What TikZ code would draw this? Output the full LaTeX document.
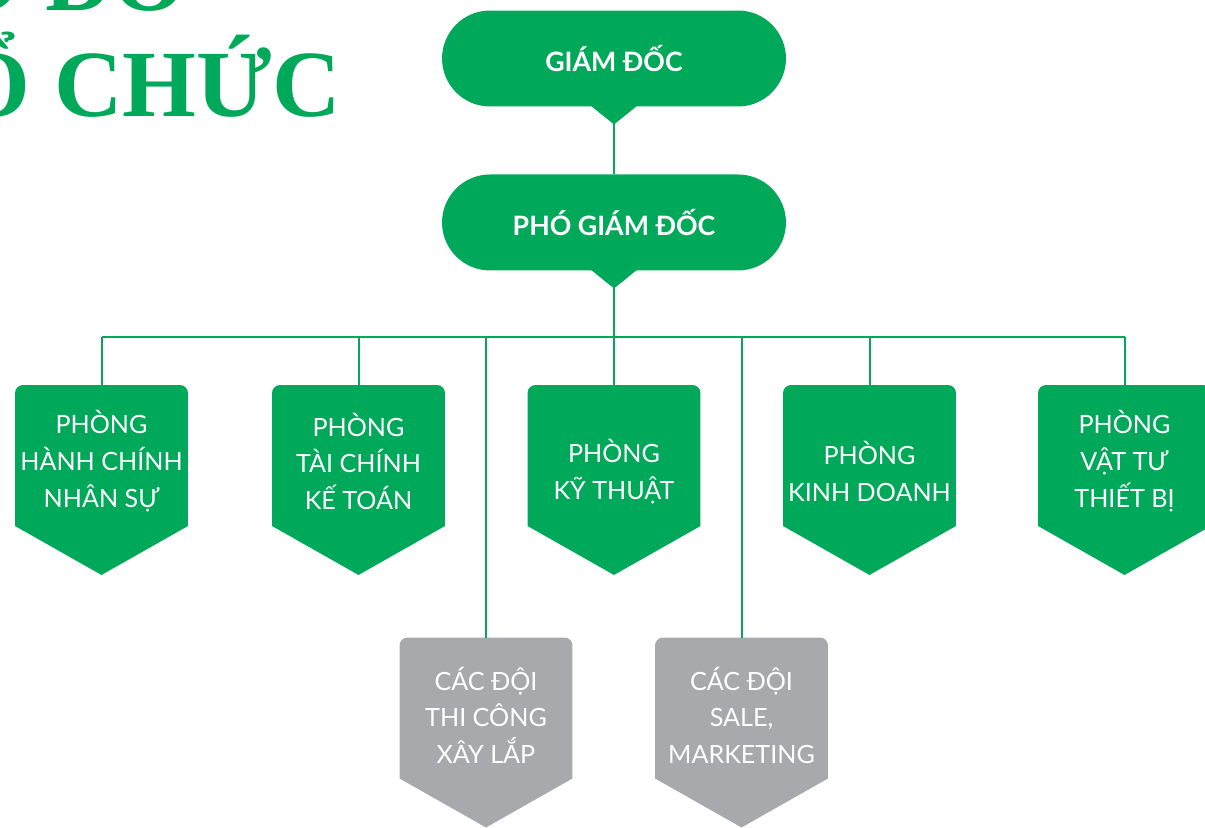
\documentclass[tikz,border=0pt]{standalone}
\usepackage{fontspec}
\setmainfont{Lato}
\newfontfamily\titlefont{Liberation Serif}
\usetikzlibrary{positioning}
\usetikzlibrary{backgrounds}
\definecolor{brandgreen}{RGB}{0,168,89}
\definecolor{teamgrey}{RGB}{167,169,172}
\newcommand{\firstline}[1]{\rule{0pt}{#1}} % pushes the text block down
\tikzset{
head/.style={ % top management boxes
fill=brandgreen,
text=white,
font=\bfseries\fontsize{15.2}{18}\selectfont,
minimum width=6.88cm,
minimum height=1.92cm,
outer sep=0pt,
rounded corners=0.96cm},
phong/.style={ % department boxes, shape is filled on the background
text=white,
align=center,
font=\fontsize{14.3}{21}\selectfont,
minimum width=3.46cm,
minimum height=2.82cm,
inner sep=0pt,
outer sep=0pt},
link/.style={draw=brandgreen, line width=0.04cm}, % connector lines
bigtitle/.style={text=brandgreen, inner sep=0pt,
font=\titlefont\bfseries\fontsize{54}{60}\selectfont}}

\begin{document}
\begin{tikzpicture}[x=0.02cm, y=-0.02cm]
\useasboundingbox (0,0) rectangle (1205,828);
\clip (0,0) rectangle (1205,828);
% title, cut by the page edge
\node[bigtitle, anchor=base east] (title2) at (341,117) {TỔ CHỨC};
\node[bigtitle, anchor=base west] (title1) at ([yshift=2.14cm]title2.base west) {SƠ ĐỒ};
% management
\node[head] (gd) at (614,58.5) {GIÁM ĐỐC};
\node[head, below=1.36cm of gd] (pgd) {PHÓ GIÁM ĐỐC};
\foreach \n in {gd,pgd}
  \fill[brandgreen] ([xshift=-0.47cm,yshift=0.02cm]\n.south) -- ([xshift=0.47cm,yshift=0.02cm]\n.south)
    -- ([yshift=-0.36cm]\n.south) coordinate (\n-tip) -- cycle;
% departments
\node[phong] (hcns) at (101.5,455.5) {\firstline{0.7cm}PHÒNG\\HÀNH CHÍNH\\NHÂN SỰ};
\node[phong] (tckt) at (358.5,455.5) {\firstline{0.7cm}PHÒNG\\TÀI CHÍNH\\KẾ TOÁN};
\node[phong] (kt) at (614,455.5) {\firstline{1.1cm}PHÒNG\\KỸ THUẬT};
\node[phong] (kd) at (869.5,455.5) {\firstline{1.1cm}PHÒNG\\KINH DOANH};
\node[phong] (vttb) at (1124.5,455.5) {\firstline{0.7cm}PHÒNG\\VẬT TƯ\\THIẾT BỊ};
% teams
\node[phong] (tc) at (486,708) {\firstline{0.76cm}CÁC ĐỘI\\THI CÔNG\\XÂY LẮP};
\node[phong] (sale) at (741.5,708) {\firstline{0.76cm}CÁC ĐỘI\\SALE,\\MARKETING};
\begin{scope}[on background layer]
\foreach \n/\c in {hcns/brandgreen,tckt/brandgreen,kt/brandgreen,kd/brandgreen,vttb/brandgreen,tc/teamgrey,sale/teamgrey}
  \fill[\c] (\n.south west) -- ([yshift=-0.16cm]\n.north west) arc[start angle=180, end angle=90, radius=0.16cm]
    -- ([xshift=-0.16cm]\n.north east) arc[start angle=90, end angle=0, radius=0.16cm]
    -- (\n.south east) -- ([yshift=-0.98cm]\n.south) -- cycle;
\end{scope}
% connectors
\coordinate (bus) at (614,337);
\draw[link] (gd-tip) -- (pgd.north);
\draw[link] (pgd-tip) -- (bus);
\draw[link] (bus -| hcns.north) -- (bus -| vttb.north);
\foreach \n in {hcns,tckt,kt,kd,vttb,tc,sale}
  \draw[link] (bus -| \n.north) -- (\n.north);
\end{tikzpicture}
\end{document}
